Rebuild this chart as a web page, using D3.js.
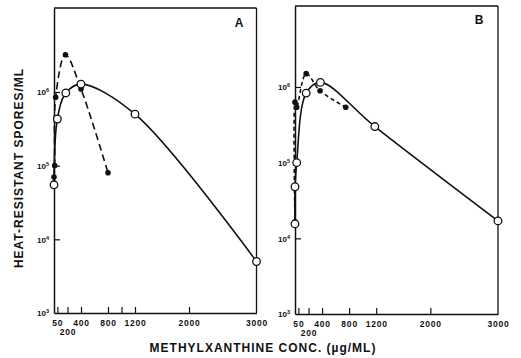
<!DOCTYPE html>
<html><head><meta charset="utf-8">
<script src="https://cdn.jsdelivr.net/npm/d3@7"></script>
<style>
body{margin:0;background:#fff;}
svg text{font-family:"Liberation Sans","DejaVu Sans",Arial,sans-serif;font-weight:bold;fill:#111;}
</style></head>
<body><svg id="c" width="521" height="358"></svg>
<script>
// X tick values and labels
const xTicksA = [50, 200, 400, 800, 1000, 1200, 2000, 3000];
const xTicksB = [50, 200, 400, 800, 1200, 2000, 3000];
const xTickLabels = {50:"50", 200:"200", 400:"400", 800:"800", 1000:"", 1200:"1200", 2000:"2000", 3000:"3000"};
const yTicks = [1e3, 1e4, 1e5, 1e6];
const yTickExp = ["3", "4", "5", "6"];

// Panel A: open circles (solid line) and filled circles (dashed line)
const aOpenX = [0, 50, 175, 400, 1200, 3000];
const aOpenY = [5.5e4, 4.3e5, 9.7e5, 1.28e6, 5.0e5, 5.0e3];
const aFilledX = [0, 10, 25, 170, 400, 800];
const aFilledY = [7.0e4, 1.0e5, 8.5e5, 3.2e6, 1.1e6, 8.0e4];

// Panel B
const bOpenX = [0, 0, 25, 165, 375, 1180, 3000];
const bOpenY = [1.55e4, 4.8e4, 1.0e5, 8.3e5, 1.15e6, 3.0e5, 1.7e4];
const bFilledX = [0, 0, 25, 165, 370, 750];
const bFilledY = [1.65e4, 6.3e5, 5.4e5, 1.5e6, 8.9e5, 5.4e5];

const svg = d3.select("#c");

function panel(o){
  const x = d3.scaleLinear().domain([0,3000]).range([o.x0, o.x1]);
  const y = d3.scaleLog().domain([1e3, Math.pow(10, o.topLog)]).range([o.yb, o.yt]);
  const g = svg.append("g");

  // bottom axis
  const xa = g.append("g").attr("transform",`translate(0,${o.yb})`)
    .call(d3.axisBottom(x).tickValues(o.xticks).tickSizeInner(-6).tickSizeOuter(0).tickPadding(7)
      .tickFormat(d=>xTickLabels[d]));
  xa.select(".domain").attr("stroke","#111").attr("stroke-width",1.5);
  xa.selectAll(".tick line").attr("stroke","#111").attr("stroke-width",1.2);
  xa.selectAll(".tick text").attr("font-size","8.5px").attr("letter-spacing","0.8px").attr("fill","#111")
    .attr("font-family","Liberation Sans, Arial, sans-serif").attr("font-weight","bold");
  xa.selectAll(".tick").filter(d=>d===200).select("text").attr("dy","1.8em");
  xa.selectAll(".tick").filter(d=>d===3000).select("line").remove();

  // left axis
  const ya = g.append("g").attr("transform",`translate(${o.x0},0)`)
    .call(d3.axisLeft(y).tickValues(yTicks).tickSizeInner(-6).tickSizeOuter(0).tickPadding(5).tickFormat(()=>""));
  ya.select(".domain").attr("stroke","#111").attr("stroke-width",1.5);
  ya.selectAll(".tick line").attr("stroke","#111").attr("stroke-width",1.2);
  ya.selectAll(".tick").filter(d=>d===1e3).select("line").remove();
  ya.selectAll(".tick text").each(function(d,i){
    const t = d3.select(this).attr("font-size","8px").attr("font-family","Liberation Sans, Arial, sans-serif")
      .attr("font-weight","bold").attr("fill","#111").attr("dy","0.35em");
    t.append("tspan").text("10");
    t.append("tspan").text(yTickExp[i]).attr("font-size","5.5px").attr("dy","-3");
  });

  // top and right borders
  g.append("line").attr("x1",o.x0).attr("x2",o.x1).attr("y1",o.yt).attr("y2",o.yt).attr("stroke","#111").attr("stroke-width",1.3);
  g.append("line").attr("x1",o.x1).attr("x2",o.x1).attr("y1",o.yt).attr("y2",o.yb).attr("stroke","#111").attr("stroke-width",1.3);

  // lines
  const line = d3.line().x(d=>x(d[0])).y(d=>y(d[1])).curve(d3.curveCatmullRom.alpha(0.5));
  const open = o.openX.map((v,i)=>[v,o.openY[i]]);
  const filled = o.filledX.map((v,i)=>[v,o.filledY[i]]);
  g.append("path").datum(filled).attr("d",line).attr("fill","none").attr("stroke","#111")
    .attr("stroke-width",1.6).attr("stroke-dasharray",o.dash);
  g.append("path").datum(open).attr("d",line).attr("fill","none").attr("stroke","#111").attr("stroke-width",1.6);

  g.selectAll(".f").data(filled).join("circle").attr("cx",d=>x(d[0])).attr("cy",d=>y(d[1]))
    .attr("r",2.8).attr("fill","#111");
  g.selectAll(".o").data(open).join("circle").attr("cx",d=>x(d[0])).attr("cy",d=>y(d[1]))
    .attr("r",3.8).attr("fill","#fff").attr("stroke","#111").attr("stroke-width",1.3);

  g.append("text").attr("x",o.lx).attr("y",o.ly).attr("text-anchor","middle").attr("font-size","12px").text(o.label);
}

panel({x0:54, x1:256.5, yb:313, yt:8, topLog:7.14, xticks:xTicksA,
  openX:aOpenX, openY:aOpenY, filledX:aFilledX, filledY:aFilledY, dash:"7,4", label:"A", lx:239, ly:27});
panel({x0:295, x1:498, yb:314, yt:6, topLog:7.07, xticks:xTicksB,
  openX:bOpenX, openY:bOpenY, filledX:bFilledX, filledY:bFilledY, dash:"4,3", label:"B", lx:479, ly:24});

svg.append("text").attr("x",263).attr("y",352).attr("text-anchor","middle").attr("font-size","12px")
  .attr("letter-spacing","1px").text("METHYLXANTHINE CONC. (µg/ML)");
svg.append("text").attr("transform","translate(23,168) rotate(-90)").attr("text-anchor","middle")
  .attr("font-size","12px").attr("letter-spacing","1px").text("HEAT-RESISTANT SPORES/ML");
</script></body></html>
